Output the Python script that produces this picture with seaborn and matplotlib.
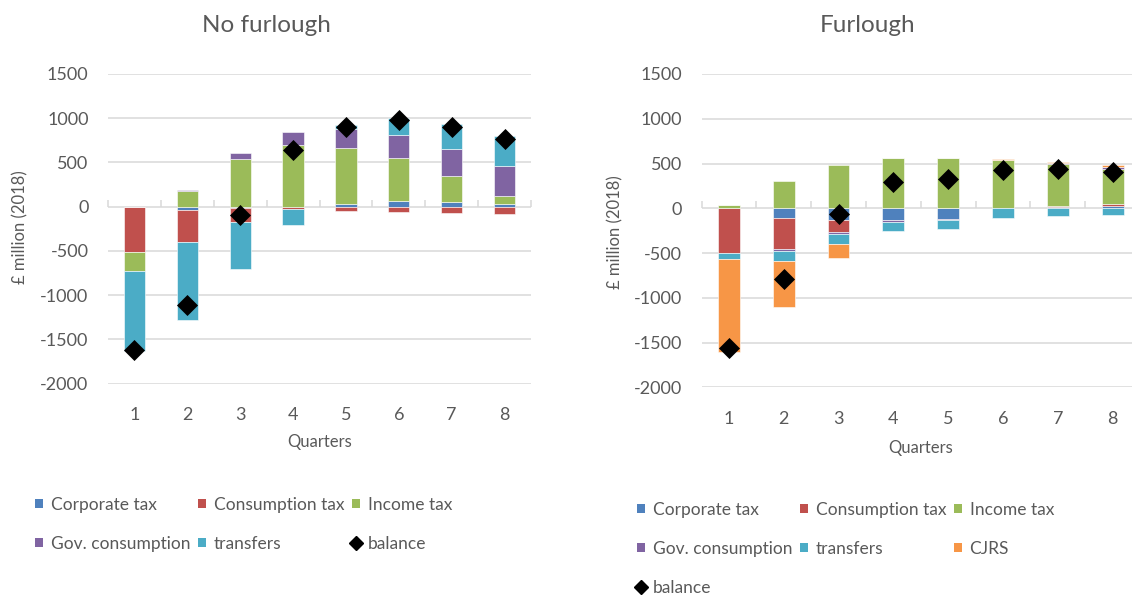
import numpy as np
import matplotlib
matplotlib.use("Agg")
import matplotlib.pyplot as plt
from matplotlib.patches import Patch
from matplotlib.lines import Line2D
import seaborn as sns

quarters = [1, 2, 3, 4, 5, 6, 7, 8]
component_names = ["Corporate tax", "Consumption tax", "Income tax",
                   "Gov. consumption", "transfers", "CJRS"]
component_colors = ["#4F81BD", "#C0504D", "#9BBB59", "#8064A2", "#4BACC6", "#F79646"]

# Scenario without furlough (GBP million, 2018 prices)
nf_corporate = [0, -35, -15, 0, 34, 68, 57, 25]
nf_consumption = [-510, -370, -160, -30, -45, -55, -70, -80]
nf_income = [-215, 177, 540, 698, 634, 483, 286, 91]
nf_gov = [0, 10, 68, 151, 211, 264, 306, 339]
nf_transfers = [-905, -880, -525, -177, 46, 189, 287, 348]
nf_balance = [-1625, -1110, -90, 645, 906, 981, 906, 770]

# Scenario with furlough
f_corporate = [0, -105, -127, -131, -116, 0, 12, 25]
f_consumption = [-497, -355, -135, -5, 0, 3, 15, 20]
f_income = [34, 306, 485, 560, 563, 538, 473, 391]
f_gov = [3, -18, -22, -14, -15, 0, 5, 23]
f_transfers = [-75, -113, -112, -104, -97, -112, -86, -75]
f_cjrs = [-1032, -508, -161, 0, 0, 7, 17, 22]
f_balance = [-1563, -793, -67, 298, 328, 429, 436, 410]

y_ticks = [-2000, -1500, -1000, -500, 0, 500, 1000, 1500]

sns.set_theme(style="white")
plt.rcParams["font.family"] = ["Lato", "DejaVu Sans"]
TXT = "#595959"
GRID = "#D9D9D9"

fig = plt.figure(figsize=(11.32, 5.95), dpi=100)
W, H = 1132, 595


def px_axes(x0, x1, ytop, ybot):
    return fig.add_axes([x0 / W, 1 - ybot / H, (x1 - x0) / W, (ybot - ytop) / H])


def draw_panel(ax, series, colors, balance):
    pos = np.zeros(len(quarters))
    neg = np.zeros(len(quarters))
    for vals, color in zip(series, colors):
        v = np.asarray(vals, dtype=float)
        bottom = np.where(v >= 0, pos, neg)
        ax.bar(quarters, v, bottom=bottom, width=0.4, color=color,
               edgecolor="white", linewidth=0.4, zorder=2)
        pos += np.clip(v, 0, None)
        neg += np.clip(v, None, 0)
    sns.scatterplot(x=quarters, y=balance, marker="D", s=115, color="black",
                    edgecolor="black", linewidth=0, ax=ax, zorder=4, legend=False)

    ax.set_xlim(0.5, 8.5)
    ax.set_ylim(-2000, 1500)
    ax.set_yticks(y_ticks)
    ax.set_yticklabels([str(t) for t in y_ticks])
    ax.set_xticks(quarters)
    ax.set_xticklabels([str(q) for q in quarters])
    ax.grid(axis="y", color=GRID, linewidth=1.1, zorder=0)
    ax.grid(axis="x", visible=False)
    for s in ax.spines.values():
        s.set_visible(False)
    ax.tick_params(axis="y", length=0, pad=14, labelsize=13, labelcolor=TXT)
    ax.tick_params(axis="x", length=0, pad=17, labelsize=13, labelcolor=TXT)
    ax.set_facecolor("none")

    # category axis drawn along the zero line
    zero_frac = 2000 / 3500
    sec = ax.secondary_xaxis(zero_frac)
    sec.set_xticks(np.arange(0.5, 9.0, 1.0))
    sec.set_xticklabels([])
    sec.tick_params(axis="x", direction="out", length=5, width=1.1, color=GRID)
    sec.spines["bottom"].set_color(GRID)
    sec.spines["bottom"].set_linewidth(1.3)
    for k in ("top", "left", "right"):
        sec.spines[k].set_visible(False)


ax1 = px_axes(108, 531, 74, 383.5)
draw_panel(ax1, [nf_corporate, nf_consumption, nf_income, nf_gov, nf_transfers],
           component_colors[:5], nf_balance)

ax2 = px_axes(701.5, 1140, 74, 387.3)
draw_panel(ax2, [f_corporate, f_consumption, f_income, f_gov, f_transfers, f_cjrs],
           component_colors, f_balance)

# titles and axis labels
fig.text(266 / W, 1 - 26 / H, "No furlough", ha="center", va="center", fontsize=17.5, color=TXT)
fig.text(868 / W, 1 - 26 / H, "Furlough", ha="center", va="center", fontsize=17.5, color=TXT)
fig.text(20 / W, 1 - 227 / H, "£ million (2018)", rotation=90, ha="center", va="center",
         fontsize=12, color=TXT)
fig.text(615 / W, 1 - 232 / H, "£ million (2018)", rotation=90, ha="center", va="center",
         fontsize=12, color=TXT)
fig.text(320 / W, 1 - 442 / H, "Quarters", ha="center", va="center", fontsize=12, color=TXT)
fig.text(921 / W, 1 - 448 / H, "Quarters", ha="center", va="center", fontsize=12, color=TXT)


def patch(i):
    return Patch(facecolor=component_colors[i], edgecolor="none", label=component_names[i])


bal_handle = Line2D([], [], marker="D", markersize=7, color="black", linestyle="none",
                    label="balance")

leg_kw = dict(frameon=False, loc="upper left", borderpad=0, borderaxespad=0,
              handlelength=0.45, handleheight=0.45, handletextpad=0.45,
              columnspacing=0.45, labelspacing=1.32, fontsize=12.5, labelcolor=TXT)

# column-major ordering gives row-wise reading
h_left = [patch(0), patch(3), patch(1), patch(4), patch(2), bal_handle]
fig.legend(handles=h_left, ncol=3, bbox_to_anchor=(35 / W, 1 - 497 / H), **leg_kw)

h_right = [patch(0), patch(3), bal_handle, patch(1), patch(4), patch(2), patch(5)]
fig.legend(handles=h_right, ncol=3, bbox_to_anchor=(637 / W, 1 - 502 / H), **leg_kw)

fig.savefig("out.png", dpi=100)
